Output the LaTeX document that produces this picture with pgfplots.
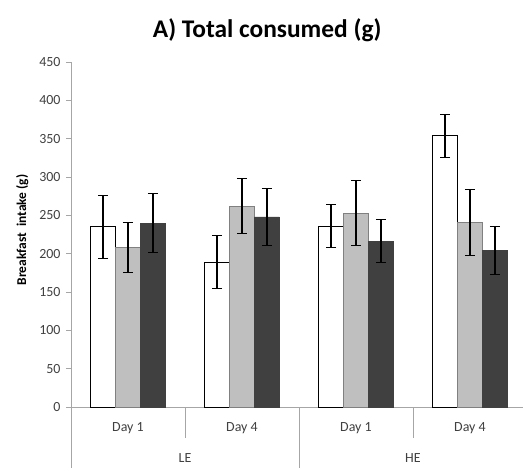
\documentclass[border=0pt]{standalone}
\usepackage{pgfplots}
\pgfplotsset{compat=1.18}
\usepackage{fontspec}
\setmainfont{Carlito}
\definecolor{axgray}{HTML}{A6A6A6}
\definecolor{barwhite}{HTML}{FFFFFF}
\definecolor{barlight}{HTML}{BFBFBF}
\definecolor{bardark}{HTML}{404040}
\definecolor{ticktext}{HTML}{404040}
\begin{document}
\begin{tikzpicture}
\useasboundingbox (-71bp,-65bp) rectangle (452bp,407bp);
\begin{axis}[
  at={(0,0)}, anchor=south west,
  scale only axis,
  width=452bp, height=345bp,
  xmin=-0.5, xmax=3.465,
  ymin=0, ymax=450,
  ytick={0,50,...,450},
  xtick=\empty,
  axis lines*=left,
  axis line style={axgray, line width=0.8pt},
  y axis line style={-},
  x axis line style={-},
  tick align=outside,
  major tick length=5bp,
  ytick style={axgray, line width=0.8pt},
  yticklabel style={font=\fontsize{14}{16}\selectfont, text=ticktext, xshift=-2bp},
  /pgf/number format/assume math mode=true,
  clip=false,
  title={A) Total consumed (g)},
  title style={at={(axis description cs:0.434,1)}, anchor=base, yshift=19bp, font=\fontsize{25.5}{28}\selectfont\bfseries},
  ylabel={Breakfast\ \ intake (g)},
  ylabel style={at={(axis description cs:-0.108,0.513)}, anchor=center, font=\fontsize{13.5}{15}\selectfont\bfseries},
  ybar, bar width=0.219,
  error bars/y dir=both, error bars/y explicit,
  error bars/error bar style={black, line width=1.1pt},
  error bars/error mark options={black, rotate=90, mark size=5bp, line width=1.1pt},
]
\addplot[bar shift=-0.219, draw=black, fill=barwhite, line width=0.9pt] coordinates {
  (0,235) +- (0,41)
  (1,189) +- (0,35)
  (2,236) +- (0,28)
  (3,354) +- (0,28)
};
\addplot[bar shift=0, draw=gray, fill=barlight, line width=0.9pt] coordinates {
  (0,208) +- (0,33)
  (1,262) +- (0,36)
  (2,253) +- (0,42)
  (3,241) +- (0,43)
};
\addplot[bar shift=0.219, draw=bardark, fill=bardark, line width=0.5pt] coordinates {
  (0,240) +- (0,39)
  (1,248) +- (0,37)
  (2,216) +- (0,28)
  (3,204) +- (0,31)
};
% group dividers below the axis
\draw[axgray, line width=0.8pt] (axis cs:-0.5,0) -- ([yshift=-61bp]axis cs:-0.5,0);
\draw[axgray, line width=0.8pt] (axis cs:0.5,0) -- ([yshift=-31bp]axis cs:0.5,0);
\draw[axgray, line width=0.8pt] (axis cs:1.5,0) -- ([yshift=-61bp]axis cs:1.5,0);
\draw[axgray, line width=0.8pt] (axis cs:2.5,0) -- ([yshift=-31bp]axis cs:2.5,0);
% category labels
\node[font=\fontsize{14}{16}\selectfont, text=ticktext, anchor=center] at ([yshift=-21bp]axis cs:0,0) {Day 1};
\node[font=\fontsize{14}{16}\selectfont, text=ticktext, anchor=center] at ([yshift=-21bp]axis cs:1,0) {Day 4};
\node[font=\fontsize{14}{16}\selectfont, text=ticktext, anchor=center] at ([yshift=-21bp]axis cs:2,0) {Day 1};
\node[font=\fontsize{14}{16}\selectfont, text=ticktext, anchor=center] at ([yshift=-21bp]axis cs:3,0) {Day 4};
\node[font=\fontsize{14}{16}\selectfont, text=ticktext, anchor=center] at ([yshift=-51bp]axis cs:0.5,0) {LE};
\node[font=\fontsize{14}{16}\selectfont, text=ticktext, anchor=center] at ([yshift=-51bp]axis cs:2.5,0) {HE};
\end{axis}
\end{tikzpicture}
\end{document}
